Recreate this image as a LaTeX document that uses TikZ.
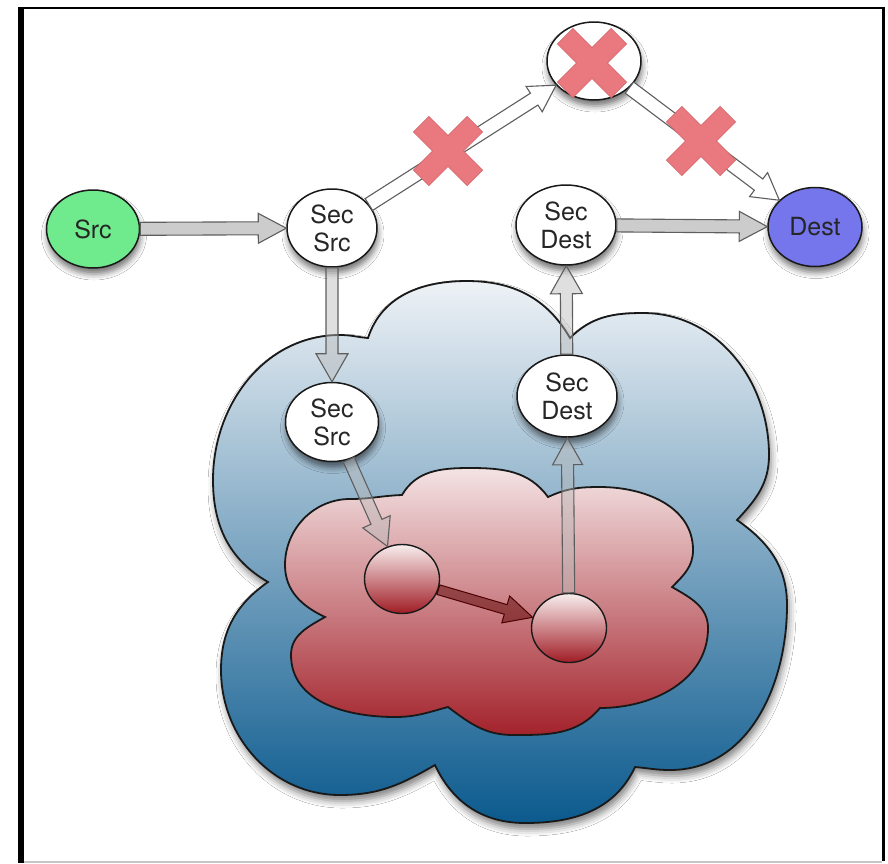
\documentclass[tikz,border=0pt]{standalone}
\usepackage{fontspec}
\setmainfont{TeX Gyre Heros}
\usetikzlibrary{shapes.geometric,calc,shadows.blur}
\definecolor{srcgreen}{HTML}{6FEB8E}
\definecolor{destblue}{HTML}{7676EC}
\definecolor{bluetop}{HTML}{EEF2F6}
\definecolor{bluebot}{HTML}{0B5A8E}
\definecolor{redtop}{HTML}{F4E3E4}
\definecolor{redbot}{HTML}{A3222B}
\definecolor{xpink}{HTML}{E9797E}
\definecolor{xedge}{HTML}{D0646A}
\definecolor{arrowgray}{HTML}{5E5E5E}
\definecolor{circtop}{HTML}{F8EEEE}
\definecolor{circmid}{HTML}{D9A0A4}
\definecolor{circbot}{HTML}{A01C25}
\tikzset{
  ellnode/.style={ellipse, draw=black!90, line width=1.5pt, fill=white, inner sep=0pt,
    align=center, font=\fontsize{25}{28}\selectfont, text=black!85,
    blur shadow={shadow xshift=1pt, shadow yshift=-6pt, shadow blur radius=6pt, shadow opacity=55}},
  rednode/.style={ellipse, draw=black!90, line width=1.4pt, inner sep=0pt,
    top color=circtop, middle color=circmid, bottom color=circbot},
  grayfill/.style={draw=arrowgray, line width=1.1pt, fill=gray!40, line join=miter},
  whitefill/.style={draw=arrowgray, line width=1.1pt, fill=white, line join=miter},
  graytrans/.style={draw=arrowgray, line width=1.1pt, fill=gray!55, fill opacity=0.45, line join=miter},
  redarr/.style={draw=black!70!red, line width=1pt, fill=red!35!black, fill opacity=0.5, line join=miter},
  crossstyle/.style={fill=xpink, draw=xedge, line width=0.6pt, line join=miter},
  cloudline/.style={draw=black!90, line width=1.8pt, line join=miter},
  cloudshadow/.style={blur shadow={shadow xshift=2pt, shadow yshift=-6pt, shadow blur radius=7pt, shadow opacity=50}}
}
% block arrow: style, from, to, half shaft, half head, head length
\newcommand\blockarr[6]{%
  \path (#2) -- (#3) coordinate[pos=0] (bs) coordinate[pos=1] (be);
  \coordinate (bh) at ($(be)!#6!(bs)$);
  \draw[#1] ($(bs)!#4!90:(be)$) -- ($(bh)!#4!90:(be)$) -- ($(bh)!#5!90:(be)$) -- (be)
    -- ($(bh)!#5!-90:(be)$) -- ($(bh)!#4!-90:(be)$) -- ($(bs)!#4!-90:(be)$) -- cycle;
}
\newcommand\failcross[1]{%
  \draw[crossstyle, shift={(#1)}, rotate=45] (-11,-38) -- (11,-38) -- (11,-11) -- (38,-11)
    -- (38,11) -- (11,11) -- (11,38) -- (-11,38) -- (-11,11) -- (-38,11) -- (-38,-11)
    -- (-11,-11) -- cycle;
}
\begin{document}
\begin{tikzpicture}[x=1pt,y=1pt]
\useasboundingbox (0,0) rectangle (888,-863);
\fill[white] (0,0) rectangle (888,-863);
% frame
\fill[black] (18,-8) rectangle (24,-863);
\draw[black, line width=2.5pt] (18,-8) -- (885,-8);
\draw[black, line width=3pt] (883,-8) -- (883,-861);
\draw[gray!45, line width=2pt] (24,-862) -- (882,-862);

% outer (blue) cloud
\path[cloudline, cloudshadow, top color=bluetop, bottom color=bluebot]
  (368,-338) to[out=72,in=180] (467,-281) to[out=0,in=120] (570,-338)
  to[out=45,in=180] (643,-313) to[out=0,in=90] (769,-455) to[out=-90,in=47] (737,-520)
  to[out=-35,in=90] (787,-605) to[out=-90,in=0] (670,-770) to[out=180,in=-5] (635,-767)
  to[out=-115,in=0] (525,-823) to[out=180,in=-65] (435,-765)
  to[out=-150,in=0] (340,-795) to[out=180,in=-90] (221,-670) to[out=90,in=-145] (268,-582)
  to[out=150,in=-90] (213,-480) to[out=90,in=180] (340,-335) to[out=0,in=175] (368,-338)
  -- cycle;
% inner (red) cloud
\path[cloudline, top color=redtop, bottom color=redbot]
  (325,-617) to[out=155,in=-90] (285,-565) to[out=90,in=180] (350,-499) to[out=0,in=182] (402,-495)
  to[out=60,in=180] (470,-468) to[out=0,in=126] (548,-497)
  to[out=25,in=180] (600,-487) to[out=0,in=90] (693,-550) to[out=-90,in=45] (672,-587)
  to[out=-30,in=90] (708,-628) to[out=-90,in=0] (600,-708)
  to[out=-130,in=0] (513,-735) to[out=180,in=-37] (448,-707)
  to[out=-165,in=0] (395,-717) to[out=180,in=-90] (291,-655) to[out=90,in=-150] (325,-617)
  -- cycle;

% nodes
\node[ellnode, fill=srcgreen, minimum width=93pt, minimum height=78pt] (src) at (93,-229) {Src};
\node[ellnode, minimum width=90pt, minimum height=78pt] (ss1) at (332,-228) {Sec\\Src};
\node[ellnode, minimum width=94pt, minimum height=78pt] (fail) at (594,-61) {};
\node[ellnode, minimum width=100pt, minimum height=80pt] (sd1) at (566,-225) {Sec\\Dest};
\node[ellnode, fill=destblue, minimum width=94pt, minimum height=79pt] (dest) at (815,-227) {Dest};
\node[ellnode, minimum width=93pt, minimum height=79pt] (ss2) at (332,-422) {Sec\\Src};
\node[ellnode, minimum width=100pt, minimum height=82pt] (sd2) at (567,-396) {Sec\\Dest};
\node[rednode, minimum width=75pt, minimum height=69pt] (r1) at (402,-579) {};
\node[rednode, minimum width=75pt, minimum height=69pt] (r2) at (569,-628) {};

% arrows
\blockarr{grayfill}{src}{ss1}{6.5pt}{15pt}{28pt}
\blockarr{whitefill}{ss1}{fail}{7pt}{15pt}{26pt}
\blockarr{whitefill}{fail}{dest}{7pt}{15pt}{26pt}
\blockarr{grayfill}{sd1}{dest}{6.5pt}{15pt}{28pt}
\blockarr{graytrans}{ss1}{ss2}{6pt}{16pt}{28pt}
\blockarr{graytrans}{sd2}{sd1}{6pt}{16pt}{28pt}
\blockarr{graytrans}{ss2}{r1}{6pt}{15pt}{27pt}
\blockarr{graytrans}{r2}{sd2}{6pt}{15pt}{27pt}
\blockarr{redarr}{r1}{r2}{5pt}{14pt}{28pt}

% failure marks
\failcross{448,-151}
\failcross{701,-141}
\failcross{592,-63}
\end{tikzpicture}
\end{document}
